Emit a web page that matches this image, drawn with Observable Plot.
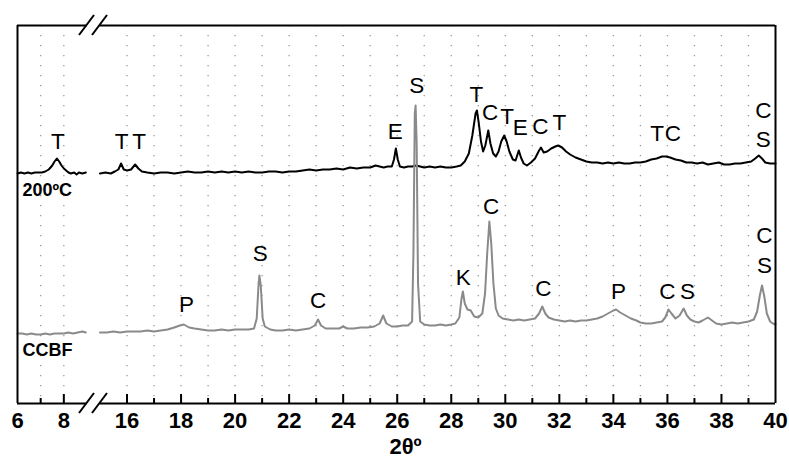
<!DOCTYPE html>
<html><head><meta charset="utf-8">
<script src="https://cdn.jsdelivr.net/npm/d3@7"></script>
<script src="https://cdn.jsdelivr.net/npm/@observablehq/plot@0.6"></script>
<style>body{margin:0;background:#fff}</style>
</head><body><div id="chart"></div>
<script>
// ---- data (2θ in degrees, intensity in arbitrary units) ----
const heatedSeg1Theta = [6.00,6.15,6.30,6.45,6.60,6.75,6.90,7.05,7.20,7.35,7.50,7.60,7.70,7.80,7.90,8.00,8.10,8.20,8.30,8.45,8.55,8.65,8.80,8.95];
const heatedSeg1Int   = [230,231,230,231,230,231,231,231,232,234,238,242,245,242,238,235,233,231,230,231,229,231,230,231];
const heatedSeg2Theta = [15.0,15.2,15.4,15.55,15.68,15.78,15.88,16.0,16.15,16.3,16.42,16.55,16.75,17.0,17.25,17.5,17.75,18.0,18.25,18.5,18.75,19.0,19.25,19.5,19.75,20.0,20.25,20.5,20.75,21.0,21.25,21.5,21.75,22.0,22.25,22.5,22.75,23.0,23.25,23.5,23.75,24.0,24.25,24.5,24.75,25.0,25.2,25.35,25.5,25.65,25.8,25.88,25.95,26.02,26.1,26.25,26.4,26.55,26.7,26.85,27.0,27.2,27.4,27.6,27.8,28.0,28.2,28.35,28.5,28.65,28.78,28.9,28.95,29.02,29.1,29.18,29.26,29.37,29.45,29.55,29.65,29.75,29.85,29.96,30.05,30.15,30.28,30.38,30.5,30.58,30.68,30.8,30.95,31.1,31.25,31.32,31.42,31.55,31.7,31.85,31.96,32.1,32.25,32.4,32.6,32.8,33.0,33.2,33.4,33.6,33.8,34.0,34.2,34.4,34.6,34.8,35.0,35.2,35.4,35.6,35.8,35.95,36.1,36.3,36.5,36.7,36.9,37.1,37.3,37.5,37.7,37.9,38.1,38.3,38.5,38.7,38.9,39.1,39.25,39.38,39.5,39.62,39.8,40.0];
const heatedSeg2Int   = [230,231,230,232,234,240,234,233,234,239,235,232,231,230,231,231,230,231,232,231,231,232,231,232,231,232,231,232,231,231,232,232,231,232,232,233,234,233,234,234,235,234,236,235,236,236,238,237,236,237,237,244,255,244,237,236,237,237,238,237,236,237,236,237,236,236,237,238,242,250,268,290,293,280,262,252,258,273,260,250,247,252,262,268,262,252,244,243,253,246,240,238,241,245,253,256,251,252,255,257,258,256,252,249,246,244,242,241,241,240,241,240,241,240,240,241,241,242,244,245,247,247,246,244,243,241,241,240,241,239,240,241,239,239,240,240,241,242,245,248,245,241,240,240];

const ccbfSeg1Theta = [6.0,6.2,6.4,6.6,6.8,7.0,7.2,7.4,7.6,7.8,8.0,8.2,8.4,8.6,8.8,8.95];
const ccbfSeg1Int   = [70,70,69,70,69,69,70,69,70,70,70,71,70,71,72,71];
const ccbfSeg2Theta = [15.0,15.25,15.5,15.75,16.0,16.25,16.5,16.75,17.0,17.25,17.5,17.75,17.95,18.1,18.3,18.5,18.75,19.0,19.25,19.5,19.75,20.0,20.25,20.5,20.7,20.8,20.87,20.9,20.95,21.02,21.1,21.3,21.5,21.75,22.0,22.25,22.5,22.75,22.95,23.07,23.18,23.35,23.6,23.85,24.0,24.15,24.4,24.65,24.9,25.15,25.35,25.48,25.6,25.8,26.0,26.2,26.4,26.55,26.6,26.65,26.68,26.72,26.77,26.85,27.0,27.2,27.4,27.6,27.8,28.0,28.15,28.3,28.38,28.43,28.5,28.6,28.72,28.85,29.0,29.15,29.25,29.33,29.41,29.48,29.56,29.65,29.75,29.9,30.1,30.3,30.5,30.7,30.9,31.1,31.25,31.37,31.48,31.6,31.8,32.0,32.2,32.4,32.6,32.8,33.0,33.2,33.4,33.6,33.8,34.0,34.1,34.25,34.45,34.65,34.85,35.0,35.2,35.4,35.6,35.8,35.92,36.04,36.15,36.3,36.45,36.6,36.72,36.85,37.0,37.15,37.3,37.5,37.65,37.8,38.0,38.2,38.4,38.6,38.8,39.0,39.2,39.32,39.42,39.5,39.58,39.68,39.8,39.9,40.0];
const ccbfSeg2Int   = [71,71,72,71,72,72,72,73,72,73,74,76,78,79,76,75,74,73,73,74,73,74,74,74,75,85,120,128,118,85,77,74,73,73,74,73,74,75,78,84,78,75,75,75,77,75,75,76,76,77,80,88,80,77,77,78,78,82,150,290,298,260,120,82,79,78,78,79,78,79,80,86,105,112,100,94,93,87,86,90,110,150,182,160,120,95,88,85,84,83,84,83,84,85,90,97,90,86,84,83,82,83,82,83,83,84,85,87,90,93,94,91,88,85,83,81,80,80,81,82,86,94,90,85,88,95,88,84,82,81,83,86,83,80,79,80,81,80,81,82,84,92,108,118,108,90,82,80,79];

// peak labels: phase letter, 2θ, intensity at label centre
const peakText  = ["T","T","T","E","S","T","C","T","E","C","T","T","C","C","S",
                   "P","S","C","K","C","C","P","C","S","C","S"];
const peakTheta = [7.74,15.8,16.45,25.93,26.72,28.93,29.44,30.07,30.55,31.3,32.0,35.62,36.2,39.55,39.55,
                   18.2,20.93,23.07,28.44,29.48,31.41,34.19,36.0,36.74,39.59,39.59];
const peakInt   = [262,262,262,272,318,309,291,287,276,277,281,270,270,293,264,
                   99,150,103,126,197,115,112,112,112,168,138];

const seriesNames = ["200ºC","CCBF"];
const seriesLabelInt = [213,53];

const labelTicks = [6,8,16,18,20,22,24,26,28,30,32,34,36,38,40];
const majorTicks = [8,16,18,20,22,24,26,28,30,32,34,36,38];
const minorTicks = [7,17,19,21,23,25,27,29,31,33,35,37,39];
const gridTicks  = [7,8,16,17,18,19,20,21,22,23,24,25,26,27,28,29,30,31,32,33,34,35,36,37,38,39];

const xDomain = [6,9,15,40];   // broken axis: 9 .. 15 omitted
const yMax = 378;

// ---- build rows ----
const rows = (xs, ys, seg) => xs.map((x, i) => ({x, y: ys[i], seg}));
const heated = [...rows(heatedSeg1Theta, heatedSeg1Int, 1), ...rows(heatedSeg2Theta, heatedSeg2Int, 2)];
const ccbf   = [...rows(ccbfSeg1Theta, ccbfSeg1Int, 1), ...rows(ccbfSeg2Theta, ccbfSeg2Int, 2)];
const peaks  = peakText.map((t, i) => ({t, x: peakTheta[i], y: peakInt[i]}));
const series = seriesNames.map((t, i) => ({t, y: seriesLabelInt[i]}));
const frameH = [
  {y: 0, x1: xDomain[0], x2: xDomain[1]}, {y: 0, x1: xDomain[2], x2: xDomain[3]},
  {y: yMax, x1: xDomain[0], x2: xDomain[1]}, {y: yMax, x1: xDomain[2], x2: xDomain[3]}
];

const plot = Plot.plot({
  width: 789, height: 465,
  marginLeft: 17, marginRight: 14, marginTop: 25, marginBottom: 62,
  x: {type: "linear", domain: xDomain, range: [17, 86.5, 99.5, 775], axis: null},
  y: {domain: [0, yMax], range: [403, 25], axis: null},
  style: {fontFamily: "'Liberation Sans', Arial, sans-serif", background: "white", color: "black"},
  marks: [
    Plot.ruleX(gridTicks, {x: d => d, stroke: "#9a9a9a", strokeWidth: 1.3, strokeDasharray: "1.3,8.7"}),
    Plot.line(heated, {x: "x", y: "y", z: "seg", stroke: "#000", strokeWidth: 2}),
    Plot.line(ccbf, {x: "x", y: "y", z: "seg", stroke: "#8a8a8a", strokeWidth: 2}),
    Plot.ruleX(majorTicks, {x: d => d, y1: 0, y2: 9, stroke: "#000", strokeWidth: 2}),
    Plot.ruleX(minorTicks, {x: d => d, y1: 0, y2: 5, stroke: "#000", strokeWidth: 2}),
    Plot.ruleX([xDomain[0], xDomain[3]], {x: d => d, y1: 0, y2: yMax, stroke: "#000", strokeWidth: 2}),
    Plot.ruleY(frameH, {y: "y", x1: "x1", x2: "x2", stroke: "#000", strokeWidth: 2}),
    Plot.text(peaks, {x: "x", y: "y", text: "t", fontSize: 22.5, fill: "#000"}),
    Plot.text(series, {x: () => xDomain[0], y: "y", text: "t", dx: 5, textAnchor: "start", fontSize: 18, fontWeight: "bold", fill: "#000"}),
    Plot.text(labelTicks, {x: d => d, text: d => String(d), frameAnchor: "bottom", dy: 24, fontSize: 22, fontWeight: "bold", fill: "#000"}),
    Plot.text(["2θº"], {text: d => d, frameAnchor: "bottom", dy: 50, dx: 9, fontSize: 22, fontWeight: "bold", fill: "#000"})
  ]
});
document.getElementById("chart").appendChild(plot);

// break marks "//" on top and bottom edges, placed through the plot's scales
const sx = plot.scale("x"), sy = plot.scale("y");
const svg = d3.select(plot);
[xDomain[1], xDomain[2]].forEach(b => {
  [0, yMax].forEach(v => {
    const cx = sx.apply(b), cy = sy.apply(v);
    svg.append("line").attr("x1", cx - 7.5).attr("y1", cy + 10).attr("x2", cx + 7.5).attr("y2", cy - 10)
      .attr("stroke", "#000").attr("stroke-width", 2);
  });
});
</script>
</body></html>
